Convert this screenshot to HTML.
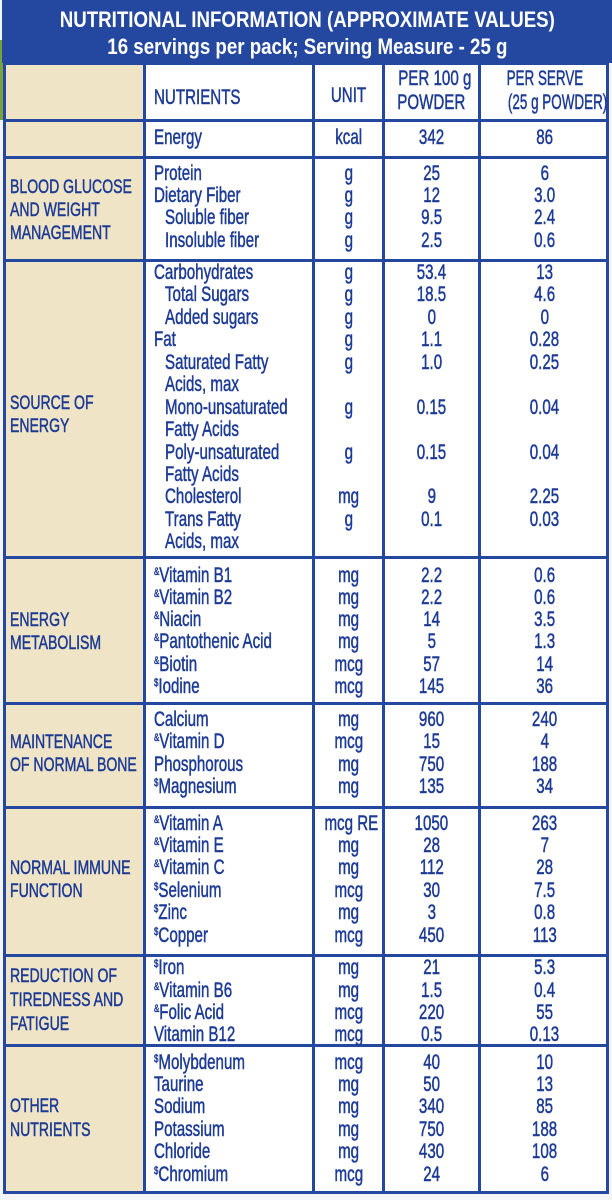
<!DOCTYPE html>
<html><head><meta charset="utf-8"><style>
*{margin:0;padding:0;box-sizing:border-box}
body{width:612px;height:1200px;position:relative;background:#f4f5f8;overflow:hidden;font-family:"Liberation Sans",sans-serif;color:#1d3b95}
span{display:inline-block;transform:scaleX(.72);transform-origin:left center;-webkit-text-stroke:0.5px #1d3b95;white-space:nowrap}
.c span,.hdr span{transform-origin:center center}
.hdr span{-webkit-text-stroke:0;transform:scaleX(.85)}
.hdr{position:absolute;left:2px;top:0;width:610px;height:63px;background:#2447a0;color:#fff;font-weight:bold;font-size:22px;line-height:27px}
.hdr div{position:absolute;left:-100px;width:810px;text-align:center;white-space:nowrap}
.tbl{position:absolute;left:3px;top:62px;width:606px;height:1132px;background:#fff;border:3px solid #2447a0}
.beige{position:absolute;left:3px;top:62px;width:142px;height:1132px;background:#efe4c6;border:3px solid #2447a0;border-right:none}
.v{position:absolute;top:62px;height:1132px;width:3px;background:#2447a0}
.h{position:absolute;left:3px;width:606px;height:3px;background:#2447a0}
.t{position:absolute;height:22px;line-height:22px;font-size:21px;white-space:nowrap}
.c{text-align:center}
.sm span{transform:scaleX(.64)}
.l{position:absolute;left:10px;font-size:19px;line-height:23px;white-space:nowrap}
.l span{transform:scaleX(.74)}
sup{font-size:11px;vertical-align:top;line-height:14px}
</style></head><body>
<div style="position:absolute;left:0;top:40px;width:8px;height:80px;background:#7aa23a"></div>
<div class="hdr"><div style="top:6px"><span>NUTRITIONAL INFORMATION (APPROXIMATE VALUES)</span></div><div style="top:33px"><span>16 servings per pack; Serving Measure - 25 g</span></div></div>
<div class="tbl"></div>
<div class="beige"></div>
<div class="v" style="left:143px"></div>
<div class="v" style="left:312px"></div>
<div class="v" style="left:382px"></div>
<div class="v" style="left:478px"></div>
<div class="h" style="top:119px"></div>
<div class="h" style="top:156px"></div>
<div class="h" style="top:259px"></div>
<div class="h" style="top:556px"></div>
<div class="h" style="top:702px"></div>
<div class="h" style="top:806px"></div>
<div class="h" style="top:954px"></div>
<div class="h" style="top:1044px"></div>

<div class="t" style="left:154px;top:87px"><span>NUTRIENTS</span></div>
<div class="t c" style="left:314px;width:69px;top:85px"><span>UNIT</span></div>
<div class="t c" style="left:384px;width:95px;top:67px;line-height:24px;height:48px"><span>PER 100 g</span><br><span>POWDER</span></div>
<div class="t c sm" style="left:480px;width:129px;top:67px;line-height:24px;height:48px"><span>PER SERVE</span><br><span>(25 g POWDER)</span></div>

<div class="l" style="top:176px"><span>BLOOD GLUCOSE</span><br><span>AND WEIGHT</span><br><span>MANAGEMENT</span></div>
<div class="l" style="top:392px"><span>SOURCE OF</span><br><span>ENERGY</span></div>
<div class="l" style="top:609px"><span>ENERGY</span><br><span>METABOLISM</span></div>
<div class="l" style="top:731px"><span>MAINTENANCE</span><br><span>OF NORMAL BONE</span></div>
<div class="l" style="top:857px"><span>NORMAL IMMUNE</span><br><span>FUNCTION</span></div>
<div class="l" style="top:965px;line-height:24px"><span>REDUCTION OF</span><br><span>TIREDNESS AND</span><br><span>FATIGUE</span></div>
<div class="l" style="top:1095px;line-height:24px"><span>OTHER</span><br><span>NUTRIENTS</span></div>

<div id="rows"></div>
<script>
var R=[
[138,0,"Energy","kcal","342","86"],
[174,0,"Protein","g","25","6"],[196,0,"Dietary Fiber","g","12","3.0"],[218,1,"Soluble fiber","g","9.5","2.4"],[241,1,"Insoluble fiber","g","2.5","0.6"],
[273,0,"Carbohydrates","g","53.4","13"],[295,1,"Total Sugars","g","18.5","4.6"],[318,1,"Added sugars","g","0","0"],[340,0,"Fat","g","1.1","0.28"],[363,1,"Saturated Fatty","g","1.0","0.25"],[385,1,"Acids, max","","",""],[408,1,"Mono-unsaturated","g","0.15","0.04"],[430,1,"Fatty Acids","","",""],[453,1,"Poly-unsaturated","g","0.15","0.04"],[475,1,"Fatty Acids","","",""],[497,1,"Cholesterol","mg","9","2.25"],[520,1,"Trans Fatty","g","0.1","0.03"],[542,1,"Acids, max","","",""],
[576,0,"<sup>&amp;</sup>Vitamin B1","mg","2.2","0.6"],[598,0,"<sup>&amp;</sup>Vitamin B2","mg","2.2","0.6"],[620,0,"<sup>&amp;</sup>Niacin","mg","14","3.5"],[642,0,"<sup>&amp;</sup>Pantothenic Acid","mg","5","1.3"],[665,0,"<sup>&amp;</sup>Biotin","mcg","57","14"],[687,0,"<sup>$</sup>Iodine","mcg","145","36"],
[720,0,"Calcium","mg","960","240"],[742,0,"<sup>&amp;</sup>Vitamin D","mcg","15","4"],[765,0,"Phosphorous","mg","750","188"],[787,0,"<sup>$</sup>Magnesium","mg","135","34"],
[824,0,"<sup>&amp;</sup>Vitamin A","mcg RE","1050","263"],[846,0,"<sup>&amp;</sup>Vitamin E","mg","28","7"],[868,0,"<sup>&amp;</sup>Vitamin C","mg","112","28"],[891,0,"<sup>$</sup>Selenium","mcg","30","7.5"],[913,0,"<sup>$</sup>Zinc","mg","3","0.8"],[936,0,"<sup>$</sup>Copper","mcg","450","113"],
[968,0,"<sup>$</sup>Iron","mg","21","5.3"],[991,0,"<sup>&amp;</sup>Vitamin B6","mg","1.5","0.4"],[1013,0,"<sup>&amp;</sup>Folic Acid","mcg","220","55"],[1035,0,"Vitamin B12","mcg","0.5","0.13"],
[1063,0,"<sup>$</sup>Molybdenum","mcg","40","10"],[1085,0,"Taurine","mg","50","13"],[1107,0,"Sodium","mg","340","85"],[1130,0,"Potassium","mg","750","188"],[1152,0,"Chloride","mg","430","108"],[1175,0,"<sup>$</sup>Chromium","mcg","24","6"]];
var h="";R.forEach(function(r){var t=r[0]-11;
h+='<div class="t" style="left:'+(r[1]?165:154)+'px;top:'+t+'px"><span>'+r[2]+'</span></div>';
h+='<div class="t c" style="left:314px;width:69px;top:'+t+'px"><span>'+r[3]+'</span></div>';
h+='<div class="t c" style="left:384px;width:95px;top:'+t+'px"><span>'+r[4]+'</span></div>';
h+='<div class="t c" style="left:480px;width:129px;top:'+t+'px"><span>'+r[5]+'</span></div>';});
document.getElementById("rows").innerHTML=h;
</script>
</body></html>
